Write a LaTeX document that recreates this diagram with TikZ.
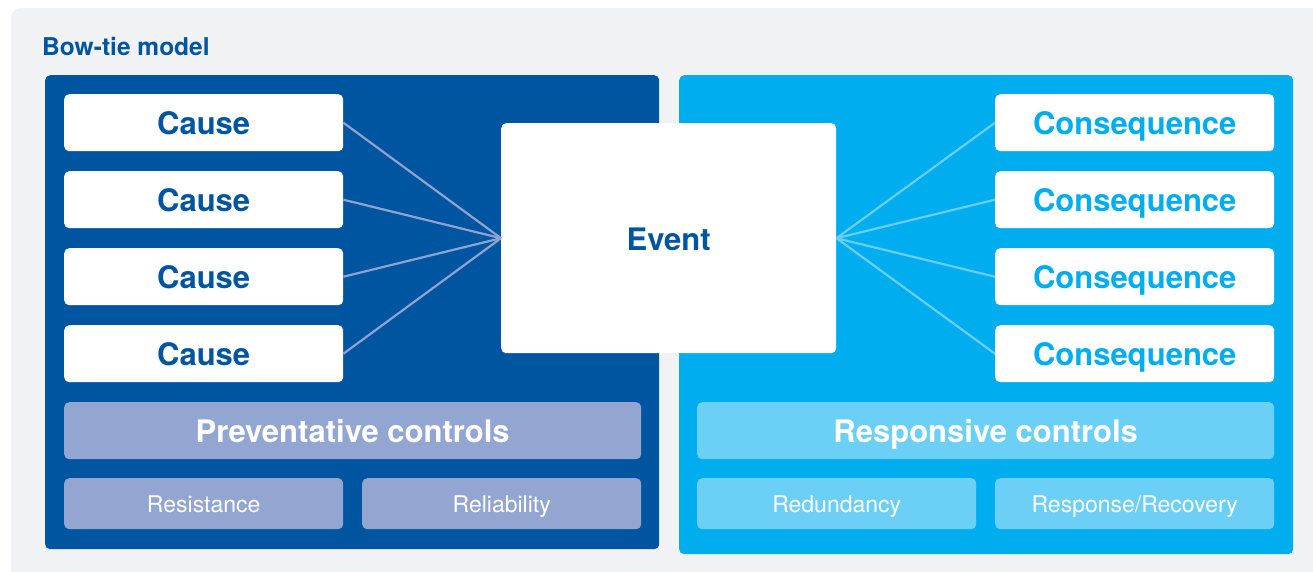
\documentclass[tikz,border=0pt]{standalone}
\usepackage{fontspec}
\setmainfont{TeX Gyre Heros}
\definecolor{pagegrey}{HTML}{F1F2F4}
\definecolor{bowblue}{HTML}{0055A0}
\definecolor{bowcyan}{HTML}{00AEEF}
\definecolor{prevbar}{HTML}{93A5D1}
\definecolor{respbar}{HTML}{6BCFF6}
\definecolor{prevline}{HTML}{8FA3D3}
\definecolor{respline}{HTML}{6ACDF4}
\begin{document}
\begin{tikzpicture}[x=1pt,y=-1pt,
  panel/.style={anchor=north west, rounded corners=5pt, inner sep=0pt},
  box/.style={anchor=north west, fill=white, rounded corners=5pt, inner sep=0pt,
    minimum width=279pt, minimum height=57pt, text height=24pt, text depth=0pt,
    font=\fontsize{31}{31}\bfseries\selectfont},
  causebox/.style={box, text=bowblue},
  conbox/.style={box, text=bowcyan},
  ctrlbar/.style={anchor=north west, rounded corners=5pt, inner sep=0pt,
    minimum width=577pt, minimum height=57pt, text height=24pt, text depth=0pt,
    text=white, font=\fontsize{31}{31}\bfseries\selectfont},
  ctrlsub/.style={anchor=north west, rounded corners=5pt, inner sep=0pt,
    minimum width=279pt, minimum height=51pt, text height=18pt, text depth=0pt,
    text=white, font=\fontsize{23}{23}\selectfont},
  causeline/.style={prevline, line width=2.2pt},
  conline/.style={respline, line width=2.2pt}]
\clip (0,0) rectangle (1313,571);
% page background
\fill[pagegrey, rounded corners=10pt] (11,8) rectangle (1340,600);
\node[anchor=base west, inner sep=0pt, text=bowblue,
  font=\fontsize{24.5}{24.5}\bfseries\selectfont] (title) at (42,55) {Bow-tie model};
% the two halves of the bow tie
\node[panel, fill=bowblue, minimum width=614pt, minimum height=474pt] (prevpanel) at (45,75) {};
\node[panel, fill=bowcyan, minimum width=614pt, minimum height=479pt] (resppanel) at (679,75) {};
% causes and consequences
\foreach \i/\y in {1/94,2/171,3/248,4/325}{
  \node[causebox] (cause\i) at (64,\y) {Cause};
  \node[conbox] (cons\i) at (995,\y) {Consequence};
}
% central event
\node[box, text=bowblue, minimum width=335pt, minimum height=230pt] (event) at (501,123) {Event};
\foreach \i in {1,...,4}{
  \draw[causeline] (cause\i.east) -- (event.west);
  \draw[conline] (event.east) -- (cons\i.west);
}
% controls
\node[ctrlbar, fill=prevbar] (prevctrl) at (64,402) {Preventative controls};
\node[ctrlbar, fill=respbar] (respctrl) at (697,402) {Responsive controls};
\node[ctrlsub, fill=prevbar] (resist) at (64,478) {Resistance};
\node[ctrlsub, fill=prevbar] (reliab) at (362,478) {Reliability};
\node[ctrlsub, fill=respbar] (redund) at (697,478) {Redundancy};
\node[ctrlsub, fill=respbar] (recov) at (995,478) {Response/Recovery};
\end{tikzpicture}
\end{document}
